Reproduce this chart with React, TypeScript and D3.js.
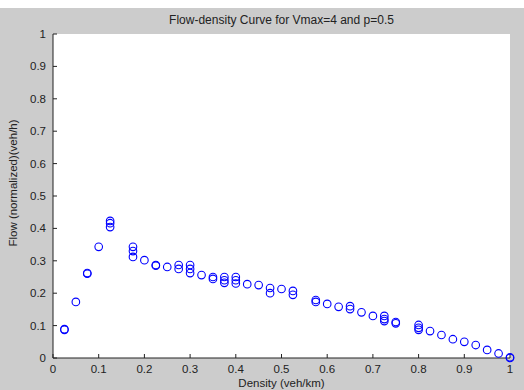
import React from "react";
import * as d3 from "d3";

const title = "Flow-density Curve for Vmax=4 and p=0.5";
const xLabel = "Density (veh/km)";
const yLabel = "Flow (normalized)(veh/h)";
const xTicks = [0, 0.1, 0.2, 0.3, 0.4, 0.5, 0.6, 0.7, 0.8, 0.9, 1];
const yTicks = [0, 0.1, 0.2, 0.3, 0.4, 0.5, 0.6, 0.7, 0.8, 0.9, 1];

const density = [
  0.025, 0.025, 0.05, 0.075, 0.075, 0.1,
  0.125, 0.125, 0.125, 0.175, 0.175, 0.175, 0.2,
  0.225, 0.225, 0.25, 0.275, 0.275, 0.3, 0.3, 0.3,
  0.325, 0.35, 0.35, 0.375, 0.375, 0.375, 0.4, 0.4, 0.4,
  0.425, 0.45, 0.475, 0.475, 0.5, 0.525, 0.525,
  0.575, 0.575, 0.6, 0.625, 0.65, 0.65, 0.675, 0.7,
  0.725, 0.725, 0.725, 0.75, 0.75, 0.8, 0.8, 0.8,
  0.825, 0.85, 0.875, 0.9, 0.925, 0.95, 0.975, 1.0, 1.0,
];
const flow = [
  0.089, 0.087, 0.173, 0.26, 0.262, 0.343,
  0.423, 0.416, 0.404, 0.343, 0.33, 0.312, 0.302,
  0.287, 0.285, 0.281, 0.287, 0.275, 0.287, 0.275, 0.262,
  0.256, 0.25, 0.244, 0.25, 0.24, 0.232, 0.25, 0.24, 0.23,
  0.228, 0.225, 0.216, 0.2, 0.213, 0.207, 0.195,
  0.179, 0.173, 0.167, 0.158, 0.16, 0.151, 0.141, 0.13,
  0.13, 0.12, 0.114, 0.111, 0.107, 0.102, 0.093, 0.087,
  0.083, 0.071, 0.058, 0.05, 0.04, 0.025, 0.014, 0.0, 0.002,
];

const W = 524;
const H = 390;
const L = 53, R = 510, T = 34, B = 358;
const font = "Arial, 'Liberation Sans', sans-serif";

export default function App() {
  const x = d3.scaleLinear().domain([0, 1]).range([L, R]);
  const y = d3.scaleLinear().domain([0, 1]).range([B, T]);
  const fmt = (v: number) => (v === 0 || v === 1 ? String(v) : d3.format(".1f")(v));
  return (
    <svg
      width={W}
      height={H}
      style={{ position: "fixed", left: 0, top: 0, display: "block" }}
      fontFamily={font}
    >
      <rect x={0} y={0} width={W} height={H} fill="#ffffff" />
      <rect x={0} y={8} width={W} height={H - 8} fill="#cccccc" />
      <rect x={L} y={T} width={R - L} height={B - T} fill="#ffffff" />
      <text x={(L + R) / 2} y={24} textAnchor="middle" fontSize={12} fill="#222">
        {title}
      </text>
      <line x1={L} y1={T} x2={L} y2={B} stroke="#222" strokeWidth={1} />
      <line x1={L} y1={B} x2={R} y2={B} stroke="#222" strokeWidth={1} />
      {yTicks.map((t) => (
        <g key={"y" + t}>
          <line x1={L} x2={L + 4} y1={y(t)} y2={y(t)} stroke="#222" />
          <text x={L - 7} y={y(t) + 4} textAnchor="end" fontSize={11.5} fill="#222">
            {fmt(t)}
          </text>
        </g>
      ))}
      {xTicks.map((t) => (
        <g key={"x" + t}>
          <line x1={x(t)} x2={x(t)} y1={B} y2={B - 4} stroke="#222" />
          <text x={x(t)} y={373} textAnchor="middle" fontSize={11.5} fill="#222">
            {fmt(t)}
          </text>
        </g>
      ))}
      <text x={(L + R) / 2} y={387} textAnchor="middle" fontSize={11.5} fill="#222">
        {xLabel}
      </text>
      <text
        transform={`translate(17,183) rotate(-90)`}
        textAnchor="middle"
        fontSize={11.5}
        fill="#222"
      >
        {yLabel}
      </text>
      {density.map((d, i) => (
        <circle
          key={i}
          cx={x(d)}
          cy={y(flow[i])}
          r={3.8}
          fill="none"
          stroke="#0000ff"
          strokeWidth={1.1}
        />
      ))}
    </svg>
  );
}
